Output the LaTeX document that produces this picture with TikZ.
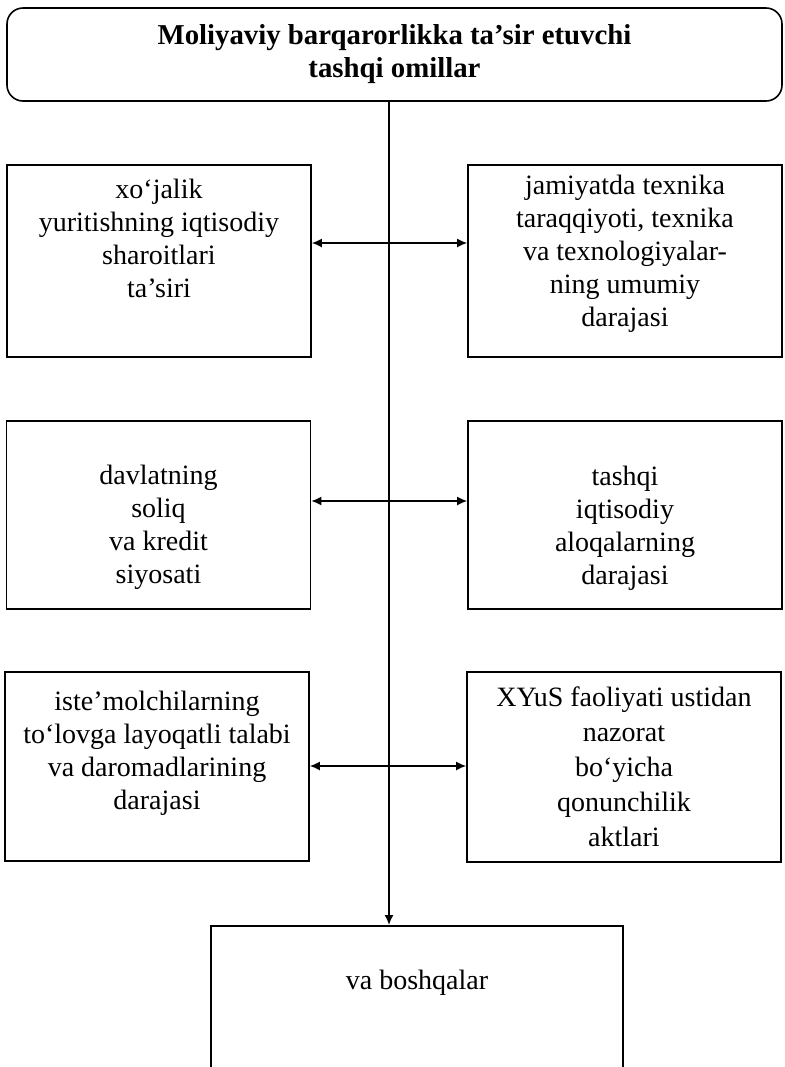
\documentclass[tikz,border=0pt]{standalone}
\usepackage{fontspec}
\setmainfont{Liberation Serif}
\usetikzlibrary{arrows.meta, positioning}
\tikzset{
  basebox/.style={rectangle, draw=black, line width=0.8pt,
                  align=center, font=\fontsize{14}{16.5}\selectfont},
  titlebox/.style={basebox, rounded corners=8pt, minimum width=387.5pt,
                   minimum height=46.5pt,
                   font=\fontsize{14.4}{16.5}\selectfont\bfseries},
  leftbox/.style={basebox, minimum width=152pt},
  rightbox/.style={basebox, minimum width=157pt},
  widebox/.style={rightbox, font=\fontsize{14}{17.5}\selectfont},
  restbox/.style={basebox, minimum width=206pt, inner ysep=0pt,
                  text height=32pt, text depth=50pt},
  arrow/.style={-{Latex[length=5pt,width=4.5pt]}, line width=0.8pt},
  biarrow/.style={{Latex[length=5pt,width=4.5pt]}-{Latex[length=5pt,width=4.5pt]},
                  line width=0.8pt}
}

\begin{document}
\begin{tikzpicture}[x=0.5pt, y=-0.5pt]
  \useasboundingbox (0,0) rectangle (784,1067);
  \clip (0,0) rectangle (784,1067);

  % header
  \node[titlebox] (title) at (394.5,54.5)
    {Moliyaviy barqarorlikka ta’sir etuvchi\\ tashqi omillar};

  % factor boxes
  \node[leftbox, minimum height=96pt] (econ) at (159,261)
    {xo‘jalik\\ yuritishning iqtisodiy\\ sharoitlari\\ ta’siri\\[6.5pt]\mbox{}};
  \node[rightbox, minimum height=96pt] (tech) at (625,261)
    {jamiyatda texnika\\ taraqqiyoti, texnika\\ va texnologiyalar-\\
     ning umumiy\\ darajasi\\[-6pt]\mbox{}};
  \node[leftbox, minimum height=94pt] (tax) at (158.5,515)
    {\mbox{}\\[6pt] davlatning\\ soliq\\ va kredit\\ siyosati};
  \node[rightbox, minimum height=94pt] (trade) at (625,515)
    {\mbox{}\\[6pt] tashqi\\ iqtisodiy\\ aloqalarning\\ darajasi};
  \node[leftbox, minimum height=94.5pt] (demand) at (157,766.5)
    {iste’molchilarning\\ to‘lovga layoqatli talabi\\
     va daromadlarining\\ darajasi\\ \mbox{}};
  \node[widebox, minimum height=95pt] (law) at (624,767)
    {XYuS faoliyati ustidan\\ nazorat\\ bo‘yicha\\ qonunchilik\\ aktlari};
  \node[restbox, anchor=north] (others) at (417,925) {va boshqalar};

  % connectors
  \coordinate (spine) at (389,0);
  \draw[arrow] (title.south -| spine) -- (others.north -| spine);
  \draw[biarrow] (econ.east |- 0,243) -- (tech.west |- 0,243);
  \draw[biarrow] (tax.east |- 0,501) -- (trade.west |- 0,501);
  \draw[biarrow] (demand.east |- 0,766) -- (law.west |- 0,766);
\end{tikzpicture}
\end{document}
